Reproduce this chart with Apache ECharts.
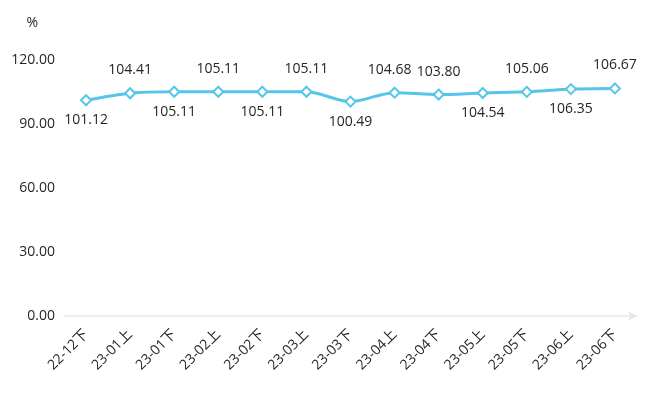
<!DOCTYPE html>
<html>
<head>
<meta charset="utf-8">
<script src="https://cdn.jsdelivr.net/npm/echarts@6/dist/echarts.min.js"></script>
<style>html,body{margin:0;padding:0;background:#fff}#c{width:655px;height:395px}</style>
</head>
<body>
<div id="c"></div>
<script>
var categories = ['22-12下','23-01上','23-01下','23-02上','23-02下','23-03上','23-03下','23-04上','23-04下','23-05上','23-05下','23-06上','23-06下'];
var values = [101.12, 104.41, 105.11, 105.11, 105.11, 105.11, 100.49, 104.68, 103.80, 104.54, 105.06, 106.35, 106.67];
var labelPositions = ['bottom','top','bottom','top','bottom','top','bottom','top','top','bottom','top','bottom','top'];
var yTicks = [0, 30, 60, 90, 120];

var FONT = '"Open Sans", "Noto Sans CJK SC", sans-serif';
var TXT = '#262626';
var chart = echarts.init(document.getElementById('c'));
chart.setOption({
  animation: false,
  grid: {left: 64, right: 18, top: 60, bottom: 79, containLabel: false},
  xAxis: {
    type: 'category',
    data: categories,
    boundaryGap: true,
    axisLine: {show: true, symbol: ['none', 'arrow'], symbolSize: [7, 9], lineStyle: {color: '#e6e6e6', width: 1.5}},
    axisTick: {show: false},
    axisLabel: {rotate: 45, color: TXT, fontSize: 14, fontFamily: FONT, margin: 16, interval: 0}
  },
  yAxis: {
    type: 'value',
    min: yTicks[0], max: yTicks[yTicks.length - 1], interval: 30,
    name: '%',
    nameLocation: 'end',
    nameGap: 30,
    nameTextStyle: {color: TXT, fontSize: 14, fontFamily: FONT, align: 'right', padding: [0, 26, 0, 0]},
    axisLine: {show: false},
    axisTick: {show: false},
    splitLine: {show: false},
    axisLabel: {color: TXT, fontSize: 14, fontFamily: FONT, margin: 9, formatter: function (v) { return v.toFixed(2); }}
  },
  series: [{
    type: 'line',
    data: values.map(function (v, i) {
      return {value: v, label: {position: labelPositions[i], distance: labelPositions[i] === 'top' ? 10 : 7, offset: i === 7 ? [-5, 0] : [0, 0]}};
    }),
    smooth: 0.3,
    symbol: 'diamond',
    symbolSize: 10,
    lineStyle: {color: '#56C5EA', width: 3},
    itemStyle: {color: '#ffffff', borderColor: '#56C5EA', borderWidth: 2},
    label: {show: true, color: TXT, fontSize: 14, fontFamily: FONT, formatter: function (p) { return p.value.toFixed(2); }}
  }]
});
</script>
</body>
</html>
